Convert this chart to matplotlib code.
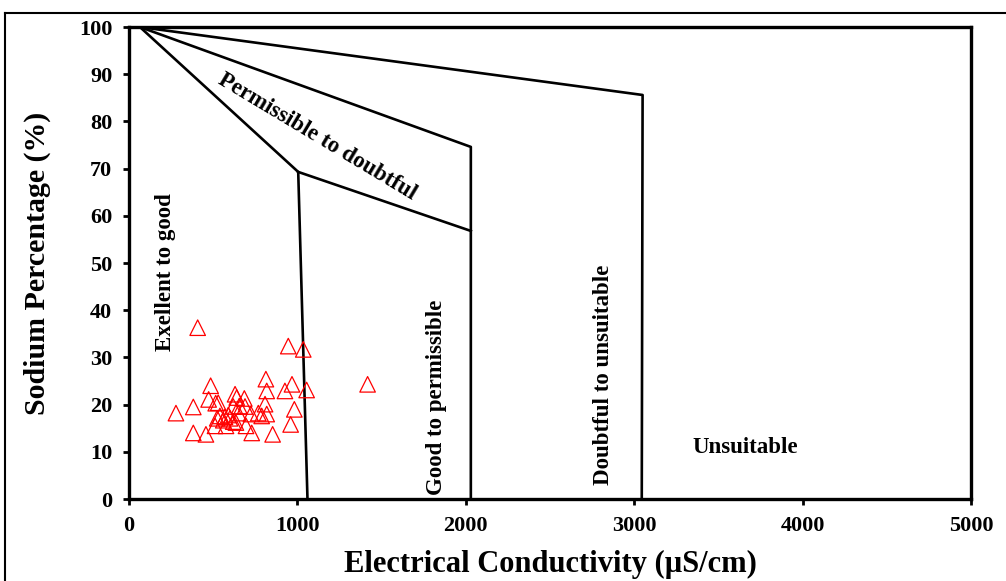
import numpy as np
import matplotlib
matplotlib.use('Agg')
import matplotlib.pyplot as plt
from matplotlib.lines import Line2D

plt.rcParams['font.family'] = ['Liberation Serif', 'DejaVu Serif']
plt.rcParams['font.weight'] = 'bold'

# sample points
ec = [408, 946, 1035, 1417, 813, 968, 818, 926, 1055, 485, 473, 382, 279, 530, 515,
      630, 640, 685, 689, 655, 619, 808, 982, 818, 768, 724, 788, 540, 570, 590,
      600, 560, 524, 619, 649, 511, 576, 635, 695, 960, 382, 457, 729, 853]
na = [36.3, 32.4, 31.7, 24.3, 25.4, 24.3, 22.9, 22.9, 23.1, 24.0, 21.1, 19.5, 18.2, 20.4, 20.3,
      22.2, 21.5, 21.3, 19.6, 19.7, 19.6, 20.1, 19.0, 18.0, 18.2, 18.0, 17.6, 17.6, 17.4, 17.8,
      17.1, 16.7, 17.1, 16.4, 18.2, 15.5, 15.5, 16.2, 15.5, 15.8, 14.0, 13.7, 14.0, 13.7]

# Wilcox class boundaries
bound1_x = [65, 1005, 1060]
bound1_y = [100, 69.3, 0]
bound1b_x = [1005, 2030]
bound1b_y = [69.3, 56.8]
bound2_x = [65, 2030, 2030]
bound2_y = [100, 74.6, 0]
bound3_x = [65, 3050, 3045]
bound3_y = [100, 85.6, 0]

labels = ['Exellent to good', 'Good to permissible', 'Doubtful to unsuitable', 'Unsuitable', 'Permissible to doubtful']
lab_x = [214, 1829, 2815, 3658, 1116]
lab_y = [48.1, 21.6, 26.3, 11.0, 76.7]
lab_rot = [90, 90, 90, 0, -31]

fig = plt.figure(figsize=(10.06, 5.81), dpi=100)
ax = fig.add_axes([0.1282, 0.1411, 0.837, 0.8124])

for bx, by in [(bound1_x, bound1_y), (bound1b_x, bound1b_y), (bound2_x, bound2_y), (bound3_x, bound3_y)]:
    ax.plot(bx, by, color='black', lw=1.9)

ax.scatter(ec, na, marker='^', s=125, facecolors='none', edgecolors='red', linewidths=0.9, zorder=3)

for t, x, y, r in zip(labels, lab_x, lab_y, lab_rot):
    ax.text(x, y, t, rotation=r, ha='center', va='center', fontsize=16.5, fontweight='bold',
            rotation_mode='anchor')

ax.set_xlim(0, 5000)
ax.set_ylim(0, 100)
ax.set_xticks(np.arange(0, 5001, 1000))
ax.set_yticks(np.arange(0, 101, 10))
ax.tick_params(direction='out', length=4, width=2, labelsize=16, pad=8)
for s in ax.spines.values():
    s.set_linewidth(2.4)
ax.set_xlabel('Electrical Conductivity (µS/cm)', fontsize=22, fontweight='bold', labelpad=10)
ax.set_ylabel('Sodium Percentage (%)', fontsize=21.5, fontweight='bold', labelpad=20)

# outer frame of the figure
fig.add_artist(Line2D([5/1006, 5/1006], [0, 1 - 13/581], color='black', lw=1.5))
fig.add_artist(Line2D([5/1006, 1], [1 - 13/581, 1 - 13/581], color='black', lw=1.5))

plt.savefig('out.png', dpi=100)
